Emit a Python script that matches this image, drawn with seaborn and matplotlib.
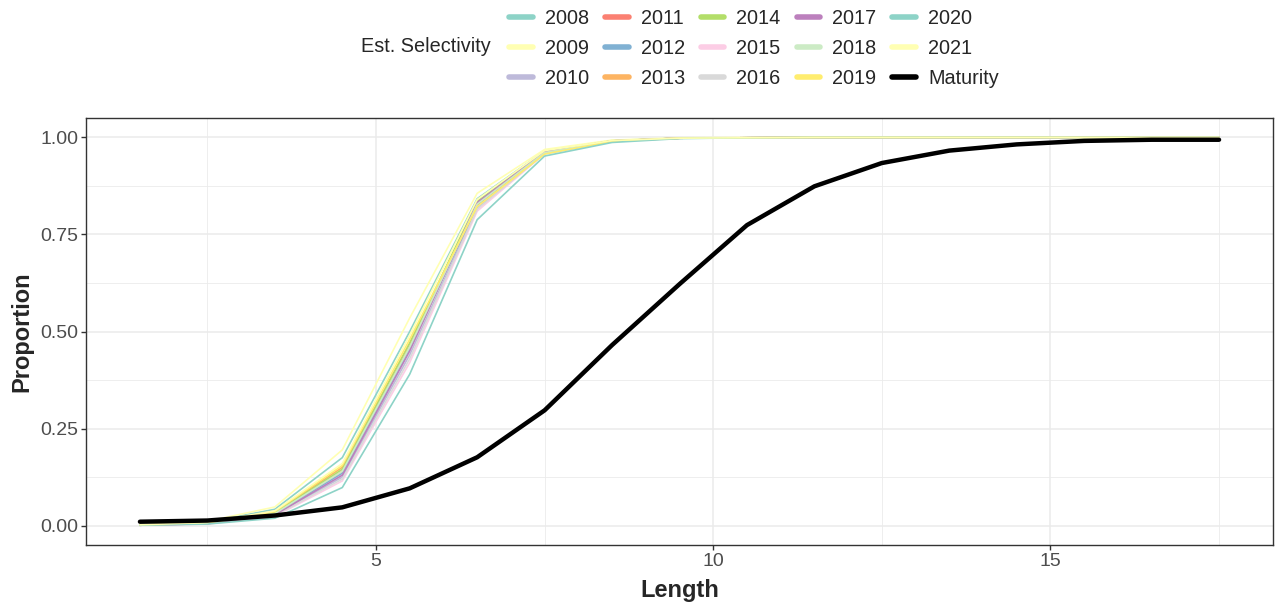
import pandas as pd
import numpy as np
import seaborn as sns
from matplotlib import pyplot as plt
from matplotlib.lines import Line2D
from matplotlib.ticker import MultipleLocator

# length bins
length = [1.5, 2.5, 3.5, 4.5, 5.5, 6.5, 7.5, 8.5, 9.5, 10.5, 11.5, 12.5, 13.5, 14.5, 15.5, 16.5, 17.5]

years = ["2008", "2009", "2010", "2011", "2012", "2013", "2014",
         "2015", "2016", "2017", "2018", "2019", "2020", "2021"]

sel_2008 = [0.002, 0.009, 0.042, 0.175, 0.500, 0.842, 0.965, 0.992, 0.998, 0.999, 1, 1, 1, 1, 1, 1, 1]
sel_2009 = [0.002, 0.011, 0.048, 0.195, 0.535, 0.856, 0.969, 0.993, 0.999, 1, 1, 1, 1, 1, 1, 1, 1]
sel_2010 = [0.001, 0.005, 0.027, 0.125, 0.440, 0.818, 0.960, 0.990, 0.998, 0.999, 1, 1, 1, 1, 1, 1, 1]
sel_2011 = [0.001, 0.006, 0.031, 0.140, 0.460, 0.825, 0.961, 0.991, 0.998, 0.999, 1, 1, 1, 1, 1, 1, 1]
sel_2012 = [0.001, 0.006, 0.030, 0.135, 0.455, 0.826, 0.962, 0.991, 0.998, 0.999, 1, 1, 1, 1, 1, 1, 1]
sel_2013 = [0.001, 0.007, 0.034, 0.150, 0.470, 0.830, 0.962, 0.991, 0.998, 0.999, 1, 1, 1, 1, 1, 1, 1]
sel_2014 = [0.001, 0.007, 0.033, 0.145, 0.470, 0.835, 0.963, 0.991, 0.998, 0.999, 1, 1, 1, 1, 1, 1, 1]
sel_2015 = [0.001, 0.004, 0.024, 0.115, 0.420, 0.810, 0.958, 0.990, 0.998, 0.999, 1, 1, 1, 1, 1, 1, 1]
sel_2016 = [0.001, 0.005, 0.026, 0.120, 0.430, 0.815, 0.959, 0.990, 0.998, 0.999, 1, 1, 1, 1, 1, 1, 1]
sel_2017 = [0.001, 0.005, 0.028, 0.130, 0.450, 0.832, 0.963, 0.991, 0.998, 0.999, 1, 1, 1, 1, 1, 1, 1]
sel_2018 = [0.001, 0.006, 0.031, 0.140, 0.460, 0.828, 0.961, 0.991, 0.998, 0.999, 1, 1, 1, 1, 1, 1, 1]
sel_2019 = [0.001, 0.007, 0.036, 0.155, 0.480, 0.822, 0.957, 0.990, 0.998, 0.999, 1, 1, 1, 1, 1, 1, 1]
sel_2020 = [0.001, 0.004, 0.019, 0.098, 0.390, 0.788, 0.952, 0.987, 0.997, 0.999, 1, 1, 1, 1, 1, 1, 1]
sel_2021 = [0.002, 0.008, 0.038, 0.160, 0.490, 0.840, 0.966, 0.992, 0.998, 0.999, 1, 1, 1, 1, 1, 1, 1]

maturity = [0.010, 0.013, 0.026, 0.047, 0.096, 0.176, 0.297, 0.465, 0.622, 0.774,
            0.874, 0.934, 0.966, 0.982, 0.991, 0.994, 0.994]

sel_values = [sel_2008, sel_2009, sel_2010, sel_2011, sel_2012, sel_2013, sel_2014,
              sel_2015, sel_2016, sel_2017, sel_2018, sel_2019, sel_2020, sel_2021]

colors = ["#8DD3C7", "#FFFFB3", "#BEBADA", "#FB8072", "#80B1D3", "#FDB462", "#B3DE69",
          "#FCCDE5", "#D9D9D9", "#BC80BD", "#CCEBC5", "#FFED6F", "#8DD3C7", "#FFFFB3"]
pal = dict(zip(years, colors))

sel_df = pd.concat([pd.DataFrame({"Length": length, "Proportion": v, "Year": y})
                    for y, v in zip(years, sel_values)], ignore_index=True)
mat_df = pd.DataFrame({"Length": length, "Proportion": maturity})

sns.set_theme(style="whitegrid")
plt.rcParams["font.family"] = ["Liberation Sans", "DejaVu Sans"]

fig = plt.figure(figsize=(12.75, 6.07), dpi=100)
ax = fig.add_axes([86 / 1275, 62 / 607, 1187 / 1275, 427 / 607])

sns.lineplot(data=sel_df, x="Length", y="Proportion", hue="Year", palette=pal,
             linewidth=1.2, ax=ax, legend=False, zorder=2)
sns.lineplot(data=mat_df, x="Length", y="Proportion", color="black",
             linewidth=3.2, ax=ax, zorder=3)

ax.set_xlim(0.7, 18.3)
ax.set_ylim(-0.05, 1.05)
ax.xaxis.set_major_locator(MultipleLocator(5))
ax.xaxis.set_minor_locator(MultipleLocator(2.5))
ax.yaxis.set_major_locator(MultipleLocator(0.25))
ax.yaxis.set_minor_locator(MultipleLocator(0.125))
ax.yaxis.set_major_formatter(plt.FuncFormatter(lambda v, p: f"{v:.2f}"))
ax.grid(which="major", color="#EBEBEB", linewidth=1.1)
ax.grid(which="minor", color="#EBEBEB", linewidth=0.6)
ax.set_axisbelow(True)
for s in ax.spines.values():
    s.set_color("#333333")
    s.set_linewidth(1.0)
ax.tick_params(axis="both", which="major", length=3.5, width=1, color="#333333",
               labelsize=14, labelcolor="#4D4D4D", pad=2, bottom=True, left=True)
ax.tick_params(which="minor", length=0)
ax.set_xlabel("Length", fontsize=17, fontweight="bold", labelpad=7)
ax.set_ylabel("Proportion", fontsize=17, fontweight="bold", labelpad=5)

handles = [Line2D([], [], color=c, linewidth=4) for c in colors]
handles.append(Line2D([], [], color="black", linewidth=4))
labels = years + ["Maturity"]
fig.legend(handles, labels, ncol=5, loc="upper left", bbox_to_anchor=(509 / 1275, 0.985),
           frameon=False, fontsize=14.3, handlelength=1.2, handletextpad=0.6,
           columnspacing=0.8, labelspacing=0.55, borderpad=0, borderaxespad=0)
fig.text(491 / 1275, 1 - 47 / 607, "Est. Selectivity", fontsize=14.3, ha="right", va="center")

fig.savefig("out.png", dpi=100)
